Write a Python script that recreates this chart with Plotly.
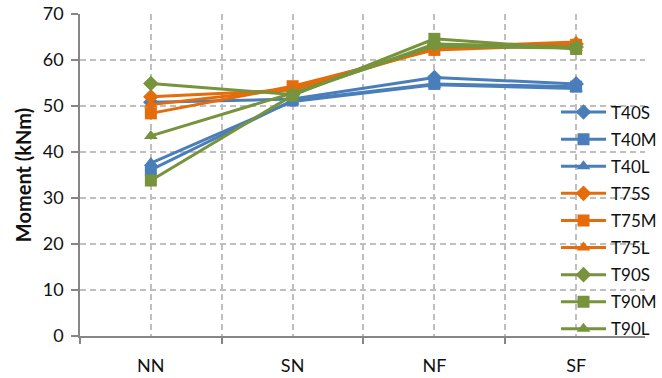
import plotly.graph_objects as go

# Load cases along the x axis
cases = ["NN", "SN", "NF", "SF"]

# Moment (kNm) per specimen
T40S = [50.8, 51.5, 56.2, 54.8]
T40M = [36.1, 51.2, 54.8, 54.2]
T40L = [37.6, 51.0, 54.6, 53.8]
T75S = [52.0, 53.5, 62.5, 63.5]
T75M = [48.4, 54.3, 62.2, 63.3]
T75L = [50.3, 53.8, 62.8, 63.9]
T90S = [54.9, 52.5, 63.5, 62.8]
T90M = [33.8, 52.3, 64.6, 62.4]
T90L = [43.5, 52.8, 63.0, 62.6]

series = [
    ("T40S", T40S, "#4a7ebb", "diamond"),
    ("T40M", T40M, "#4a7ebb", "square"),
    ("T40L", T40L, "#4a7ebb", "triangle-up"),
    ("T75S", T75S, "#e46c0a", "diamond"),
    ("T75M", T75M, "#e46c0a", "square"),
    ("T75L", T75L, "#e46c0a", "triangle-up"),
    ("T90S", T90S, "#77933c", "diamond"),
    ("T90M", T90M, "#77933c", "square"),
    ("T90L", T90L, "#77933c", "triangle-up"),
]

xpos = list(range(len(cases)))
FONT = "Lato"
TXT = "#111111"

fig = go.Figure()
for name, vals, color, sym in series:
    fig.add_trace(go.Scatter(
        x=xpos, y=vals, name=name, mode="lines+markers",
        legendgroup=name,
        line=dict(color=color, width=3),
        marker=dict(symbol=sym, size=12, color=color),
    ))

grid = "#bfbfbf"
axis_col = "#868686"

fig.update_layout(
    width=662, height=378,
    margin=dict(l=80, r=0, t=14, b=42),
    paper_bgcolor="white", plot_bgcolor="white",
    font=dict(family=FONT, size=18, color=TXT),
    showlegend=True,
    legend=dict(
        x=0.843, xanchor="left", y=0.75, yanchor="top",
        bgcolor="rgba(0,0,0,0)", font=dict(family=FONT, size=17, color=TXT),
        tracegroupgap=2, itemwidth=45,
    ),
    xaxis=dict(
        range=[-0.5, 3.486],
        tickvals=xpos, ticktext=cases, ticks="",
        showgrid=True, gridcolor=grid, gridwidth=1.5, griddash="6px,4px",
        showline=True, linecolor=axis_col, linewidth=1.5,
        ticklabelstandoff=13, zeroline=False,
        minor=dict(tickvals=[-0.5, 0.5, 1.5, 2.5], ticks="outside", ticklen=6,
                   tickcolor=axis_col, tickwidth=1.5,
                   showgrid=True, gridcolor=grid, gridwidth=1.5, griddash="6px,4px"),
    ),
    yaxis=dict(
        range=[0, 70], dtick=10, tick0=0,
        ticks="outside", ticklen=7, tickcolor=axis_col, tickwidth=1.5,
        showgrid=True, gridcolor=grid, gridwidth=1.5, griddash="6px,4px",
        showline=True, linecolor=axis_col, linewidth=1.5, zeroline=False,
        ticklabelstandoff=4,
        title=dict(text="<b>Moment (kNm)</b>", font=dict(family=FONT, size=20, color=TXT),
                   standoff=6),
    ),
)

fig.write_html("out.html")
